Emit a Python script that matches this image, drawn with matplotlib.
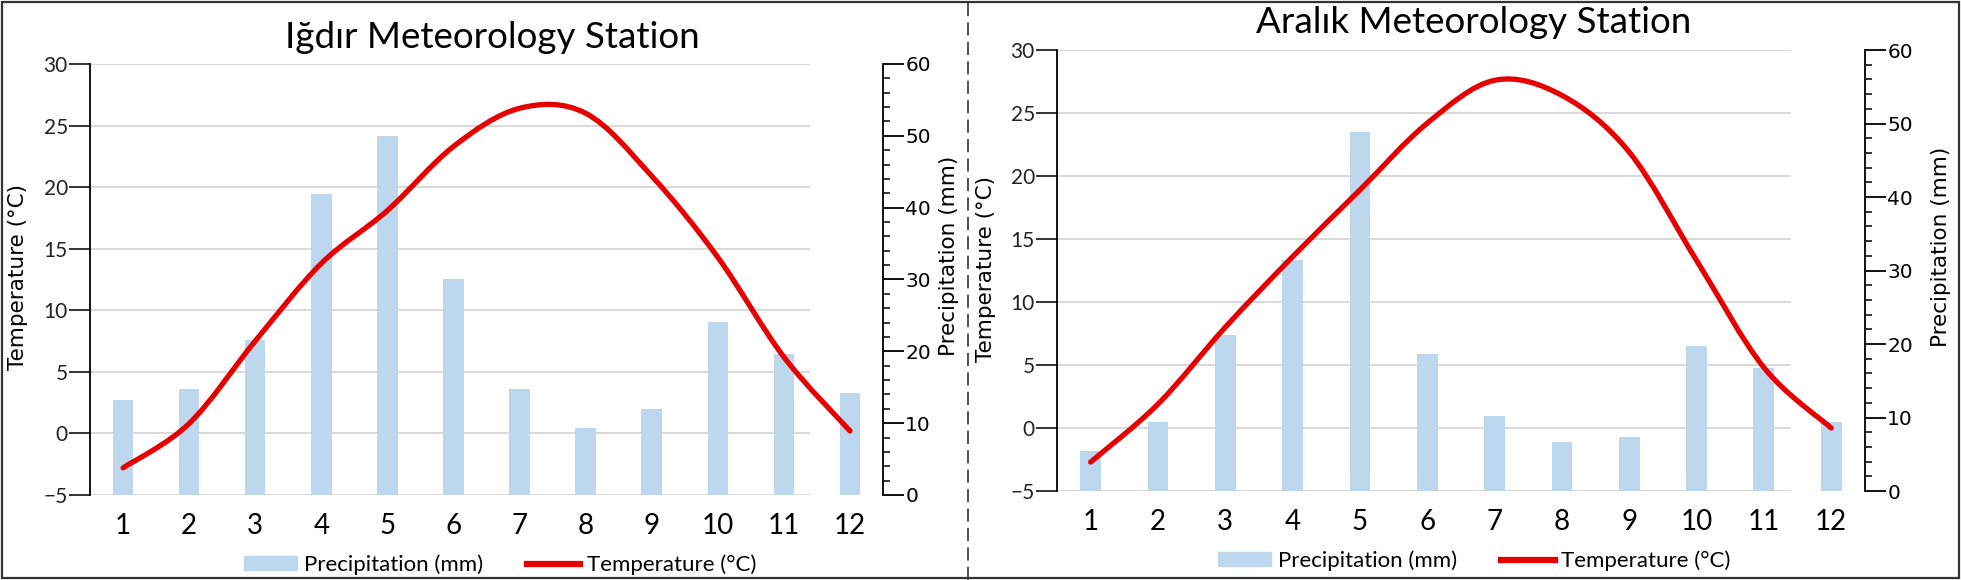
import numpy as np
import matplotlib
matplotlib.use("Agg")
import matplotlib.pyplot as plt
from matplotlib.path import Path
from matplotlib.patches import PathPatch, Patch, Rectangle
from matplotlib.lines import Line2D
from matplotlib.ticker import MultipleLocator

plt.rcParams["lines.scale_dashes"] = False

months = list(range(1, 13))
month_labels = [str(m) for m in months]

igdir_temp = [-2.8, 0.8, 7.5, 13.8, 18.1, 23.3, 26.4, 26.0, 20.9, 14.3, 6.2, 0.2]
igdir_prec = [13.2, 14.7, 21.6, 41.9, 50.0, 30.0, 14.8, 9.3, 12.0, 24.1, 19.6, 14.2]
aralik_temp = [-2.7, 1.9, 8.0, 13.6, 18.9, 24.2, 27.6, 26.4, 21.9, 13.3, 4.8, 0.0]
aralik_prec = [5.4, 9.4, 21.2, 31.4, 48.8, 18.6, 10.2, 6.7, 7.3, 19.7, 16.7, 9.4]

BAR_COLOR = "#bdd7ee"
LINE_COLOR = "#e60000"
GRID_COLOR = "#d9d9d9"
CAL = "Lato"


def smooth_path(xs, ys):
    # excel-style smoothed line (catmull-rom -> bezier)
    pts = np.column_stack([xs, ys]).astype(float)
    n = len(pts)
    verts = [pts[0]]
    codes = [Path.MOVETO]
    for i in range(n - 1):
        p0 = pts[max(i - 1, 0)]
        p1 = pts[i]
        p2 = pts[i + 1]
        p3 = pts[min(i + 2, n - 1)]
        verts += [p1 + (p2 - p0) / 6, p2 - (p3 - p1) / 6, p2]
        codes += [Path.CURVE4] * 3
    return Path(verts, codes)


def draw_panel(fig, rect, title, title_xy, temp, prec, legend_xy, ylab_l, ylab_r):
    ax = fig.add_axes(rect)
    ax2 = ax.twinx()
    ax.set_xlim(0.5, 12.5)
    ax.set_ylim(-5, 30)
    ax2.set_ylim(0, 60)

    ax.hlines(np.arange(-5, 31, 5), 0.5, 11.4, color=GRID_COLOR, lw=1.4, zorder=0)
    ax2.bar(months, prec, width=0.31, color=BAR_COLOR, zorder=2)
    ax2.add_patch(PathPatch(smooth_path(months, temp), fill=False, edgecolor=LINE_COLOR,
                            lw=3.8, transform=ax.transData, zorder=3, capstyle="round"))

    for s in ["top", "bottom", "right"]:
        ax.spines[s].set_visible(False)
    for s in ["top", "bottom", "left"]:
        ax2.spines[s].set_visible(False)
    ax.spines["left"].set_linewidth(1.3)
    ax2.spines["right"].set_linewidth(1.3)

    ax.yaxis.set_major_locator(MultipleLocator(5))
    ax.tick_params(axis="y", length=15, width=1.3, pad=1, labelsize=15,
                   labelfontfamily=CAL, colors="#222222")
    ax.set_xticks(months)
    ax.set_xticklabels(month_labels)
    ax.tick_params(axis="x", length=0, pad=13, labelsize=20, labelfontfamily=CAL)

    ax2.yaxis.set_major_locator(MultipleLocator(10))
    ax2.yaxis.set_minor_locator(MultipleLocator(2))
    ax2.tick_params(axis="y", which="major", length=15, width=1.3, pad=1, labelsize=14.5)
    ax2.tick_params(axis="y", which="minor", length=5, width=1.1)

    fig.text(*title_xy, title, ha="center", va="center", fontsize=26.5, family=CAL)
    fig.text(*ylab_l, "Temperature (°C)", ha="center", va="center", rotation=90, fontsize=15.5)
    fig.text(*ylab_r, "Precipitation (mm)", ha="center", va="center", rotation=90, fontsize=15.5)

    handles = [Patch(color=BAR_COLOR), Line2D([], [], color=LINE_COLOR, lw=4.5)]
    fig.legend(handles, ["Precipitation (mm)", "Temperature (°C)"], loc="center",
               bbox_to_anchor=legend_xy, ncol=2, frameon=False,
               prop={"family": CAL, "size": 16}, handlelength=2.4, handleheight=0.6,
               handletextpad=0.3, columnspacing=2.0, borderpad=0)
    return ax, ax2


fig = plt.figure(figsize=(19.61, 5.8), dpi=100)

draw_panel(fig, [0.0459, 0.1466, 0.4044, 0.7431], "Iğdır Meteorology Station", (0.251, 0.936),
           igdir_temp, igdir_prec, (0.255, 0.026), (0.009, 0.522), (0.484, 0.559))
draw_panel(fig, [0.539, 0.1534, 0.412, 0.7603], "Aralık Meteorology Station", (0.7517, 0.962),
           aralik_temp, aralik_prec, (0.7517, 0.033), (0.503, 0.537), (0.990, 0.574))

fig.add_artist(Rectangle((0.001, 0.003), 0.998, 0.994, transform=fig.transFigure,
                         fill=False, lw=1.6, ec="#333333"))
fig.add_artist(Line2D([0.4936, 0.4936], [0.0, 1.0], transform=fig.transFigure,
                      color="#333333", lw=1.2, linestyle=(0, (9.5, 4.5))))

fig.savefig("out.png", dpi=100)
